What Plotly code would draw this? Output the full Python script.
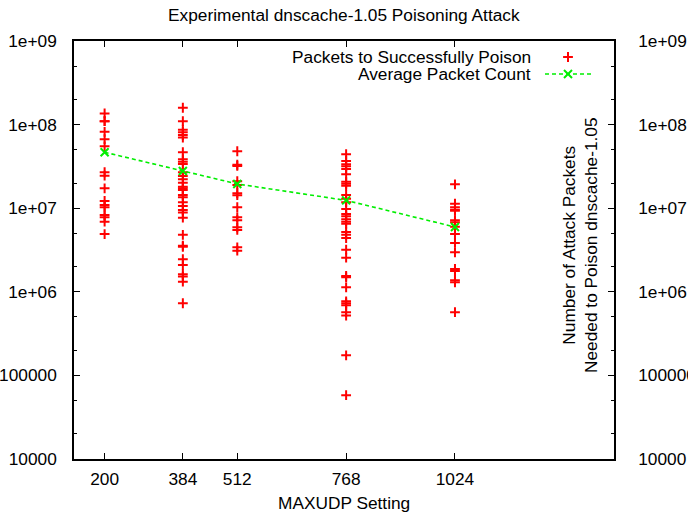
import plotly.graph_objects as go

# ---------------- data ----------------
maxudp_settings = [200, 384, 512, 768, 1024]

packets_200 = [1.36e8, 1.1e8, 1.1e8, 8.2e7, 6.7e7, 5.5e7, 2.69e7, 2.45e7, 1.73e7,
               1.22e7, 1.09e7, 1.03e7, 8.3e6, 7.8e6, 6.9e6, 4.9e6]
packets_384 = [1.59e8, 1.1e8, 8.7e7, 8.1e7, 7.5e7, 7.0e7, 4.67e7, 3.85e7, 3.6e7,
               3.38e7, 2.7e7, 2.43e7, 2.22e7, 2.02e7, 1.81e7, 1.73e7, 1.65e7, 1.44e7,
               1.35e7, 1.18e7, 1.06e7, 9.5e6, 8.9e6, 7.7e6, 4.8e6, 3.56e6, 3.46e6,
               2.45e6, 2.09e6, 1.62e6, 1.52e6, 1.32e6, 7.3e5]
packets_512 = [4.8e7, 3.31e7, 3.2e7, 2.1e7, 1.9e7, 1.51e7, 1.43e7, 1.03e7, 7.8e6,
               7.2e6, 5.9e6, 5.5e6, 3.4e6, 3.1e6]
packets_768 = [4.42e7, 3.67e7, 3.35e7, 3.17e7, 2.94e7, 2.54e7, 2.07e7, 1.96e7, 1.86e7,
               1.44e7, 1.3e7, 1.18e7, 9.8e6, 8.5e6, 8.0e6, 7.4e6, 6.9e6, 6.5e6, 5.2e6,
               4.8e6, 4.4e6, 3.19e6, 2.56e6, 1.55e6, 1.49e6, 1.13e6, 7.7e5, 7.3e5,
               6.9e5, 5.7e5, 5.2e5, 1.74e5, 5.8e4]
packets_1024 = [1.93e7, 1.13e7, 1.03e7, 9.6e6, 9.3e6, 7.2e6, 6.8e6, 6.0e6, 4.9e6,
                3.84e6, 2.97e6, 1.88e6, 1.77e6, 1.37e6, 1.3e6, 5.7e5]

average_packets = [4.67e7, 2.79e7, 1.95e7, 1.24e7, 5.96e6]

x_tick_vals = [200, 384, 512, 768, 1024]
x_tick_text = ["200", "384", "512", "768", "1024"]
y_tick_vals = [1e4, 1e5, 1e6, 1e7, 1e8, 1e9]
y_tick_text = ["10000", "100000", "1e+06", "1e+07", "1e+08", "1e+09"]
y_minor_vals = [m * 10 ** e for e in range(4, 9) for m in (2, 5)]

title_text = "Experimental dnscache-1.05 Poisoning Attack"
x_title = "MAXUDP Setting"
y2_title = "Number of Attack Packets<br>Needed to Poison dnscache-1.05"
legend_names = ["Packets to Successfully Poison", "Average Packet Count"]

# ---------------- build ----------------
all_x, all_y = [], []
for setting, vals in zip(maxudp_settings,
                         [packets_200, packets_384, packets_512, packets_768, packets_1024]):
    all_x += [setting] * len(vals)
    all_y += vals

RED = "#ff0000"
GREEN = "#00ee00"
FONT = "Liberation Sans, Arial, Helvetica, sans-serif"
FS = 17.3

fig = go.Figure()
fig.add_trace(go.Scatter(
    x=all_x, y=all_y, mode="markers", name=legend_names[0],
    marker=dict(symbol="cross-thin", size=7, color=RED, line=dict(color=RED, width=2)),
    hoverinfo="skip", showlegend=False))
fig.add_trace(go.Scatter(
    x=maxudp_settings, y=average_packets, mode="lines+markers", name=legend_names[1],
    line=dict(color=GREEN, width=1.6, dash="4px,3px"),
    marker=dict(symbol="x-thin", size=8, color=GREEN, line=dict(color=GREEN, width=2)),
    hoverinfo="skip", showlegend=False))
# dummy trace to activate right axis
fig.add_trace(go.Scatter(
    x=maxudp_settings, y=average_packets, yaxis="y2", mode="markers",
    marker=dict(opacity=0), hoverinfo="skip", showlegend=False))

# legend samples (gnuplot style: text left, sample right) on an auxiliary 0-1 axis pair
L, R, T, B = 74, 614, 41, 459
W, H = R - L, B - T
def px(xp): return (xp - L) / W
def py(yp): return (B - yp) / H

leg_y1, leg_y2 = py(57), py(74)
fig.add_trace(go.Scatter(
    x=[px(568)], y=[leg_y1], xaxis="x3", yaxis="y3", mode="markers",
    marker=dict(symbol="cross-thin", size=7, color=RED, line=dict(color=RED, width=2)),
    hoverinfo="skip", showlegend=False))
fig.add_trace(go.Scatter(
    x=[px(545), px(592)], y=[leg_y2, leg_y2], xaxis="x3", yaxis="y3", mode="lines",
    line=dict(color=GREEN, width=1.6, dash="4px,3px"),
    hoverinfo="skip", showlegend=False))
fig.add_trace(go.Scatter(
    x=[px(568)], y=[leg_y2], xaxis="x3", yaxis="y3", mode="markers",
    marker=dict(symbol="x-thin", size=8, color=GREEN, line=dict(color=GREEN, width=2)),
    hoverinfo="skip", showlegend=False))

tickfont = dict(family=FONT, size=FS, color="black")
txtfont = dict(family=FONT, size=FS, color="black")

fig.update_layout(
    width=688, height=514,
    margin=dict(l=L, r=688 - R, t=T, b=514 - B, pad=0, autoexpand=False),
    paper_bgcolor="white", plot_bgcolor="white",
    showlegend=False,
    font=dict(family=FONT, size=FS, color="black"),
    xaxis=dict(
        range=[128, 1398], tickmode="array", tickvals=x_tick_vals, ticktext=x_tick_text,
        ticks="inside", ticklen=6, tickwidth=1, tickcolor="black",
        showline=True, linecolor="black", linewidth=1.5, mirror="ticks",
        showgrid=False, zeroline=False, tickfont=tickfont, ticklabelstandoff=3,
        automargin=False),
    yaxis=dict(
        type="log", range=[4, 9], tickmode="array", tickvals=y_tick_vals, ticktext=y_tick_text,
        ticks="inside", ticklen=6, tickwidth=1, tickcolor="black",
        minor=dict(tickmode="array", tickvals=y_minor_vals, ticks="inside", ticklen=3,
                   tickcolor="black", tickwidth=1, showgrid=False),
        showline=True, linecolor="black", linewidth=1.5, mirror=False,
        showgrid=False, zeroline=False, tickfont=tickfont, ticklabelstandoff=12,
        automargin=False),
    yaxis2=dict(
        type="log", range=[4, 9], overlaying="y", side="right",
        tickmode="array", tickvals=y_tick_vals, ticktext=y_tick_text,
        ticks="inside", ticklen=6, tickwidth=1, tickcolor="black",
        minor=dict(tickmode="array", tickvals=y_minor_vals, ticks="inside", ticklen=3,
                   tickcolor="black", tickwidth=1, showgrid=False),
        showline=True, linecolor="black", linewidth=1.5,
        showgrid=False, zeroline=False, tickfont=tickfont, ticklabelstandoff=19,
        automargin=False),
    xaxis3=dict(range=[0, 1], overlaying="x", visible=False, fixedrange=True),
    yaxis3=dict(range=[0, 1], overlaying="y", visible=False, fixedrange=True),
    annotations=[
        dict(text=title_text, xref="paper", yref="paper", x=0.5, y=py(15),
             xanchor="center", yanchor="middle", showarrow=False, font=txtfont),
        dict(text=x_title, xref="paper", yref="paper", x=0.5, y=py(503),
             xanchor="center", yanchor="middle", showarrow=False, font=txtfont),
        dict(text=y2_title, xref="paper", yref="paper", x=px(580), y=py(245),
             xanchor="center", yanchor="middle", textangle=-90, showarrow=False,
             font=txtfont),
        dict(text=legend_names[0], xref="paper", yref="paper", x=px(533), y=leg_y1,
             xanchor="right", yanchor="middle", showarrow=False, font=txtfont),
        dict(text=legend_names[1], xref="paper", yref="paper", x=px(533), y=leg_y2,
             xanchor="right", yanchor="middle", showarrow=False, font=txtfont),
    ],
)

fig.write_html("out.html")
